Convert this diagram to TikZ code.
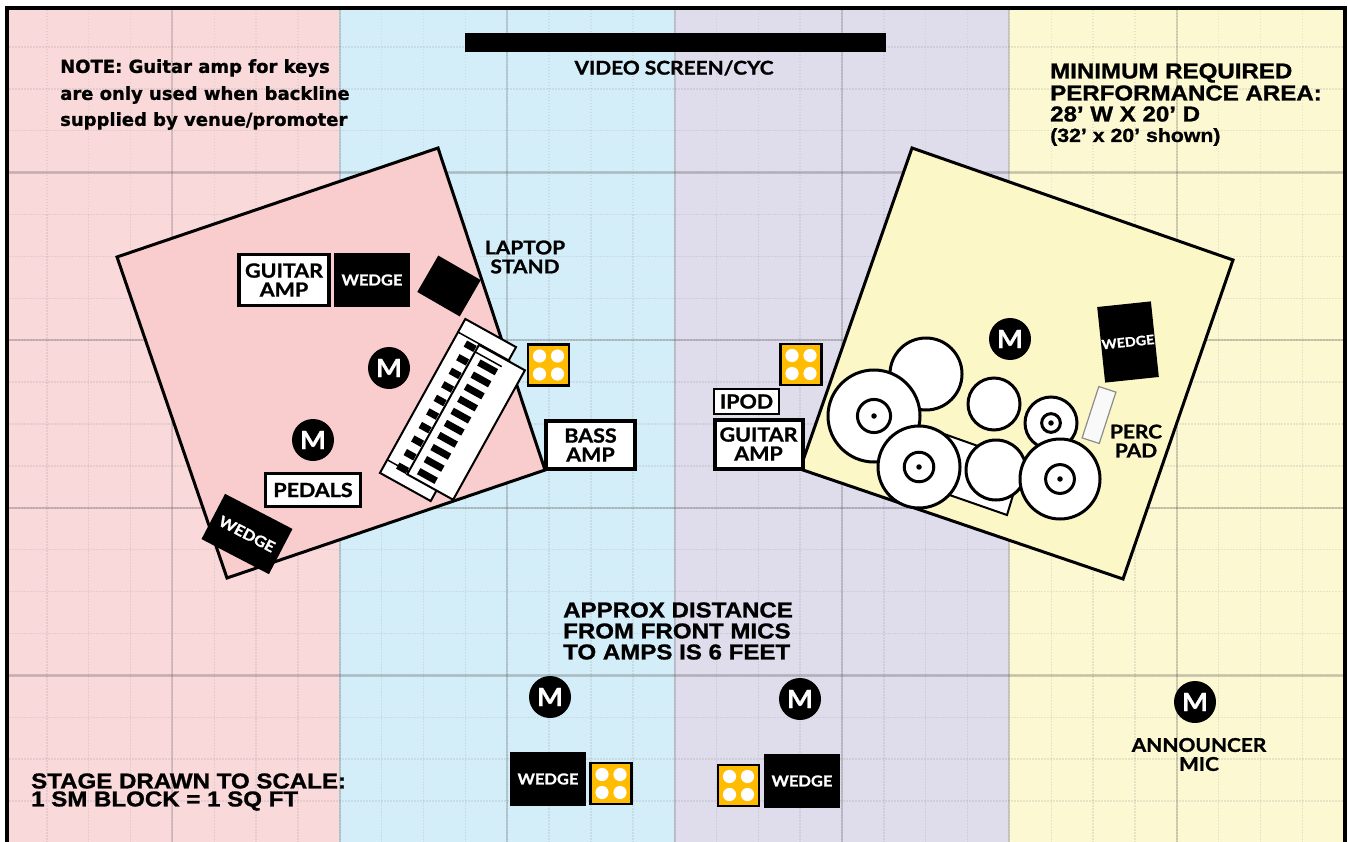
\documentclass[tikz,border=0pt]{standalone}
\usepackage{fontspec}
\setmainfont{Liberation Sans}[BoldFeatures={FakeBold=1.2,FakeStretch=1.12}]
\newfontfamily\notefont{DejaVu Sans}[BoldFeatures={FakeBold=1}]
\newfontfamily\gearfont{Lato}[BoldFeatures={FakeBold=1.2,FakeStretch=1.1}]
\definecolor{zonepink}{HTML}{FAD9DB}
\definecolor{zoneblue}{HTML}{D4EEF9}
\definecolor{zonelilac}{HTML}{DFDCEC}
\definecolor{zoneyellow}{HTML}{FCF8D2}
\definecolor{rugpink}{HTML}{F9CDCD}
\definecolor{rugyellow}{HTML}{FBF7C6}
\definecolor{padgold}{HTML}{FFBC00}
\tikzset{
    gearbox/.style = {draw, fill=white, line width=3.2pt, rectangle, align=center, font=\gearfont\bfseries\fontsize{19.5}{19}\selectfont, inner sep=0pt},
    gearlabel/.style = {align=center, font=\gearfont\bfseries\fontsize{19}{19}\selectfont, inner sep=0pt},
    wedgebox/.style = {fill=black, text=white, font=\gearfont\bfseries\fontsize{15}{15}\selectfont, inner sep=0pt},
    micnode/.style = {circle, fill=black, text=white, minimum size=42pt, inner sep=0pt, font=\gearfont\bfseries\fontsize{25}{25}\selectfont},
    padnode/.style = {draw=black, fill=padgold, line width=2.6pt, minimum size=41pt, inner sep=0pt},
    drumhead/.style = {circle, draw, fill=white, line width=3pt, inner sep=0pt},
    blurb/.style = {anchor=west, inner sep=0pt, text=black},
    notetext/.style = {blurb, font=\notefont\bfseries\fontsize{18}{18}\selectfont},
    bigtext/.style = {blurb, font=\bfseries\fontsize{21.5}{21.5}\selectfont},
    minorline/.style = {black!45, opacity=.18, line width=1.5pt, dash pattern=on 1.5pt off 1.5pt},
    majorv/.style = {black!70, opacity=.2, line width=2pt},
    majorh/.style = {black!70, opacity=.25, line width=2.5pt}
}
\newcommand{\padcircles}[1]{
    \foreach \dx in {-9,9}
        \foreach \dy in {-9,9}
            \fill[white] ([shift={(\dx pt,\dy pt)}]#1.center) circle (6.6pt);
}
\newcommand{\cymbal}[4]{
    \node[drumhead, minimum size=#4pt] (#1) at (#2,#3) {};
    \node[drumhead, minimum size=.36*#4pt] (#1ring) at (#1) {};
    \node[circle, fill=black, minimum size=5.5pt, inner sep=0pt] (#1dot) at (#1) {};
}
\begin{document}
\begin{tikzpicture}[x=1pt, y=-1pt]
    \useasboundingbox (0,0) rectangle (1348,842);
    \fill[white] (0,0) rectangle (1348,842);
    % colour zones
    \fill[zonepink] (8,8) rectangle (339,842);
    \fill[zoneblue] (339,8) rectangle (674,842);
    \fill[zonelilac] (674,8) rectangle (1009,842);
    \fill[zoneyellow] (1009,8) rectangle (1345,842);
    % floor grid
    \foreach \i in {1,...,31}
        \draw[minorline] (5+41.85*\i,10) -- (5+41.85*\i,842);
    \foreach \i in {1,...,19}
        \draw[minorline] (9,5+41.9*\i) -- (1344,5+41.9*\i);
    \foreach \i in {1,...,7}
        \draw[majorv] (5+167.4*\i,10) -- (5+167.4*\i,842);
    \foreach \i in {1,...,4}
        \draw[majorh] (9,5+167.6*\i) -- (1344,5+167.6*\i);
    \draw[line width=4.5pt] (7,842) -- (7,8) -- (1345,8) -- (1345,842);

    \fill[black] (465,33) rectangle (886,52);
    \node[gearlabel] (screenlabel) at (674,68) {VIDEO SCREEN/CYC};

    % notes
    \node[notetext] (noteA) at (60,68) {NOTE: Guitar amp for keys};
    \node[notetext] (noteB) at (60,95) {are only used when backline};
    \node[notetext] (noteC) at (60,121) {supplied by venue/promoter};
    \node[bigtext] (areaA) at (1050,73) {MINIMUM REQUIRED};
    \node[bigtext] (areaB) at (1050,93) {PERFORMANCE AREA:};
    \node[bigtext] (areaC) at (1050,114) {28’ W X 20’ D};
    \node[blurb, font=\bfseries\fontsize{19}{19}\selectfont] (areaD) at (1050,137) {(32’ x 20’ shown)};
    \node[bigtext] (distA) at (563,610) {APPROX DISTANCE};
    \node[bigtext] (distB) at (563,631) {FROM FRONT MICS};
    \node[bigtext] (distC) at (563,652) {TO AMPS IS 6 FEET};
    \node[bigtext] (scaleA) at (31,781) {STAGE DRAWN TO SCALE:};
    \node[bigtext] (scaleB) at (31,801) {1 SM BLOCK = 1 SQ FT};

    % rugs
    \draw[fill=rugpink, line width=3pt, line join=miter] (117,257) -- (438,148) -- (545,470) -- (227,578) -- cycle;
    \draw[fill=rugyellow, line width=3pt, line join=miter] (912,148) -- (1233,260) -- (1123,579) -- (800,469) -- cycle;

    % keys side
    \node[gearbox, minimum width=90pt, minimum height=51pt] (guitarampA) at (284,280) {GUITAR\\AMP};
    \node[wedgebox, minimum width=76pt, minimum height=54pt] (wedgeA) at (372,280) {WEDGE};
    \node[fill=black, minimum width=49pt, minimum height=42pt, rotate=-30] (laptop) at (449,286) {};
    \node[gearlabel] (laptoplabel) at (525,257) {LAPTOP\\STAND};
    \node[micnode] (micA) at (389,368) {M};
    \node[micnode] (micB) at (313,440) {M};
    \node[gearbox, line width=2.6pt, minimum width=95pt, minimum height=33pt] (pedals) at (313,490) {PEDALS};
    \node[wedgebox, minimum width=76pt, minimum height=51pt, rotate=-27.5] (wedgeB) at (247,534) {WEDGE};

    % keyboards, local axes turned with the pair
    \begin{scope}[shift={(448,410)}, rotate=-29]
        \draw[fill=white, line width=2pt] (-29,-88) rectangle (29,88);
        \draw[line width=1.5pt] (-29,-73) -- (29,-73);
        \draw[line width=1.5pt] (-29,73) -- (29,73);
        \foreach \i in {0,...,9}
            \fill[black] (-17,-70+15.5*\i) rectangle (-6,-63+15.5*\i);
        \draw[fill=white, line width=2pt] (-4.5,-72) rectangle (48,76);
        \draw[line width=1.5pt] (-4.5,-64) -- (26,-64);
        \foreach \i in {0,...,9}
            \fill[black] (4,-60+13.8*\i) rectangle (24,-53+13.8*\i);
    \end{scope}

    \node[padnode] (padA) at (548.5,365) {};
    \padcircles{padA}
    \node[gearbox, minimum width=89pt, minimum height=48pt] (bassamp) at (590.5,445) {BASS\\AMP};

    % drum side
    \node[padnode] (padB) at (801,364.5) {};
    \padcircles{padB}
    \node[gearbox, line width=2.6pt, minimum width=65pt, minimum height=25pt] (ipod) at (746.5,401.5) {IPOD};
    \node[gearbox, line width=4pt, minimum width=88pt, minimum height=49pt] (guitarampB) at (758.5,444) {GUITAR\\AMP};
    \node[micnode] (micC) at (1010,339) {M};
    \node[wedgebox, minimum width=54pt, minimum height=76pt, rotate=6] (wedgeC) at (1128,342) {\fontsize{13}{13}\selectfont WEDGE};
    \node[draw=black!45, fill=white!95!gray, line width=1.2pt, minimum width=18pt, minimum height=54pt, rotate=-18] (percpad) at (1099,415) {};
    \node[gearlabel] (perclabel) at (1136,441) {PERC\\PAD};

    \node[drumhead, minimum size=72pt] (tomback) at (926,374) {};
    \cymbal{cymA}{874}{416}{92}
    \node[drumhead, minimum size=52pt] (tommid) at (994,404) {};
    \draw[fill=white, line width=2pt] (930,429) -- (1023,462) -- (1007,515) -- (915,483) -- cycle;
    \cymbal{cymB}{919}{467}{82}
    \node[drumhead, minimum size=60pt] (tomfloor) at (996,470) {};
    \cymbal{cymC}{1051}{423}{52}
    \cymbal{cymD}{1060}{479}{80}

    % front line
    \node[micnode] (micD) at (550,697) {M};
    \node[micnode] (micE) at (800,699) {M};
    \node[micnode] (micF) at (1195,702) {M};
    \node[wedgebox, minimum width=76pt, minimum height=54pt] (wedgeD) at (548,779) {WEDGE};
    \node[wedgebox, minimum width=76pt, minimum height=54pt] (wedgeE) at (802,781) {WEDGE};
    \node[padnode] (padC) at (611,783.5) {};
    \padcircles{padC}
    \node[padnode] (padD) at (738.5,785.5) {};
    \padcircles{padD}
    \node[gearlabel] (announcer) at (1199,754.5) {ANNOUNCER\\MIC};
\end{tikzpicture}
\end{document}
